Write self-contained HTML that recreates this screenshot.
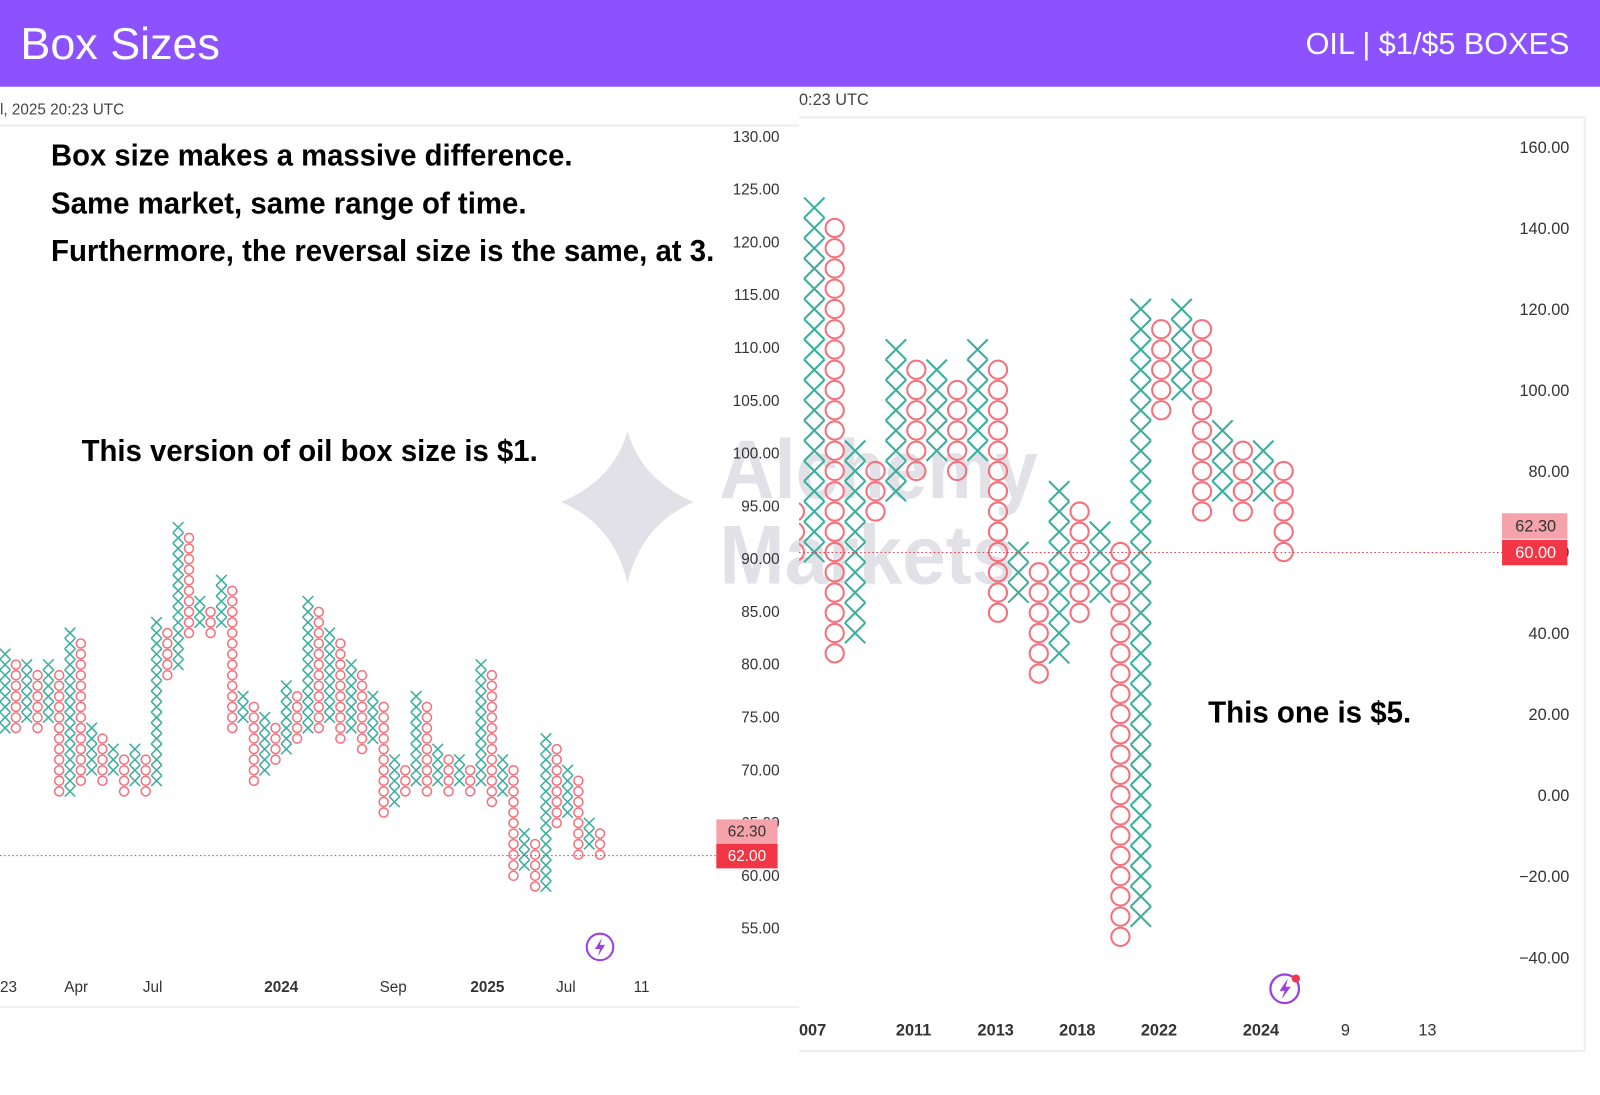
<!DOCTYPE html>
<html><head><meta charset="utf-8"><style>
html,body{margin:0;padding:0;background:#fff;}
body{width:1600px;height:1095px;overflow:hidden;position:relative;font-family:"Liberation Sans",sans-serif;}
svg{position:absolute;left:0;top:0;}
</style></head><body>
<svg id="s" width="1600" height="1095" viewBox="0 0 1568 1073.1" preserveAspectRatio="none" xmlns="http://www.w3.org/2000/svg">
<defs>
<clipPath id="cr"><rect x="783" y="100" width="800" height="1000"/></clipPath>
<clipPath id="cl"><rect x="0" y="100" width="783" height="1000"/></clipPath>
</defs>
<rect x="0" y="0" width="1568" height="1074" fill="#fff"/>
<rect x="0" y="0" width="1568" height="85" fill="#8c52ff"/>
<text x="20" y="58" font-size="44" fill="#fff" font-family="Liberation Sans, sans-serif">Box Sizes</text>
<text x="1538" y="53" font-size="30" fill="#fff" text-anchor="end" font-family="Liberation Sans, sans-serif">OIL | $1/$5 BOXES</text>
<line x1="0" y1="123" x2="783" y2="123" stroke="#eee" stroke-width="2"/>
<line x1="0" y1="987" x2="783" y2="987" stroke="#eee" stroke-width="2"/>
<line x1="783" y1="115" x2="1553" y2="115" stroke="#eee" stroke-width="2"/>
<line x1="783" y1="1030" x2="1553" y2="1030" stroke="#eee" stroke-width="2"/>
<line x1="1553" y1="115" x2="1553" y2="1030" stroke="#eee" stroke-width="2"/>
<text x="0" y="112" font-size="15" fill="#444">l, 2025 20:23 UTC</text>
<text x="783" y="103" font-size="16" fill="#444">0:23 UTC</text>
<g fill="#e2e1e8">
<path d="M615 422 Q628 470 680 492 Q628 514 615 572 Q602 514 550 492 Q602 470 615 422 Z"/>
<text x="705" y="488" font-size="82" font-weight="bold" textLength="312" lengthAdjust="spacingAndGlyphs">Alchemy</text>
<text x="705" y="572" font-size="82" font-weight="bold" textLength="290" lengthAdjust="spacingAndGlyphs">Markets</text>
</g>
<g id="marksL" clip-path="url(#cl)"></g>
<g id="marksR" clip-path="url(#cr)"></g>
<line x1="0" y1="838.5" x2="702" y2="838.5" stroke="#f23645" stroke-width="1" stroke-dasharray="1.5,2.5"/>
<line x1="783" y1="541.5" x2="1472" y2="541.5" stroke="#f23645" stroke-width="1" stroke-dasharray="1.5,2.5"/>
<g font-size="15" fill="#333" text-anchor="end" id="laxis"></g>
<g font-size="16" fill="#333" text-anchor="end" id="raxis"></g>
<rect x="702" y="803" width="60" height="24" fill="#f5a2aa"/>
<text x="732" y="820" font-size="15" fill="#333" text-anchor="middle">62.30</text>
<rect x="702" y="827" width="60" height="24" fill="#f23645"/>
<text x="732" y="844" font-size="15" fill="#fff" text-anchor="middle">62.00</text>
<rect x="1472" y="503" width="64" height="25" fill="#f5a2aa"/>
<text x="1505" y="521" font-size="16" fill="#333" text-anchor="middle">62.30</text>
<rect x="1472" y="529" width="64" height="25" fill="#f23645"/>
<text x="1505" y="547" font-size="16" fill="#fff" text-anchor="middle">60.00</text>
<g font-size="15" fill="#333">
<text x="0" y="972">23</text>
<text x="63" y="972">Apr</text>
<text x="140" y="972">Jul</text>
<text x="259" y="972" font-weight="bold">2024</text>
<text x="372" y="972">Sep</text>
<text x="461" y="972" font-weight="bold">2025</text>
<text x="545" y="972">Jul</text>
<text x="621" y="972">11</text>
</g>
<g font-size="16" fill="#333" font-weight="bold">
<text x="783" y="1015">007</text>
<text x="878" y="1015">2011</text>
<text x="958" y="1015">2013</text>
<text x="1038" y="1015">2018</text>
<text x="1118" y="1015">2022</text>
<text x="1218" y="1015">2024</text>
<text x="1314" y="1015" font-weight="normal">9</text>
<text x="1390" y="1015" font-weight="normal">13</text>
</g>
<circle cx="588" cy="928" r="13" fill="none" stroke="#9c3fe0" stroke-width="2"/>
<path d="M590 919 L583 930 L588 930 L586 937 L593 926 L588 926 Z" fill="#9c3fe0"/>
<circle cx="1259" cy="969" r="14" fill="none" stroke="#9c3fe0" stroke-width="2.2"/>
<path d="M1262 959 L1254 971 L1259 971 L1256 979 L1265 967 L1260 967 Z" fill="#9c3fe0"/>
<circle cx="1270" cy="959" r="4" fill="#f23645"/>
<g font-family="Liberation Sans Narrow, Liberation Sans, sans-serif" font-weight="bold" font-size="30" fill="#000">
<text x="50" y="162" textLength="511" lengthAdjust="spacingAndGlyphs">Box size makes a massive difference.</text>
<text x="50" y="209" textLength="466" lengthAdjust="spacingAndGlyphs">Same market, same range of time.</text>
<text x="50" y="256" textLength="650" lengthAdjust="spacingAndGlyphs">Furthermore, the reversal size is the same, at 3.</text>
<text x="80" y="452" textLength="447" lengthAdjust="spacingAndGlyphs">This version of oil box size is $1.</text>
<text x="1184" y="708" textLength="199" lengthAdjust="spacingAndGlyphs">This one is $5.</text>
</g>
</svg>
<script>
(function(){
var XC="#3aae9c",OC="#f6707b";
function draw(out,x,y,h,w,isX,sw){
  if(isX){out.push('<path d="M'+(x-w/2)+' '+(y-h/2)+' L'+(x+w/2)+' '+(y+h/2)+' M'+(x+w/2)+' '+(y-h/2)+' L'+(x-w/2)+' '+(y+h/2)+'" stroke="'+XC+'" stroke-width="'+sw+'" fill="none"/>');}
  else{out.push('<circle cx="'+x+'" cy="'+y+'" r="'+(Math.min(w,h)/2-sw/2)+'" stroke="'+OC+'" stroke-width="'+sw+'" fill="none"/>');}
}
var L=[["X",653,730],["O",665,728],["X",663,720],["O",675,728],["X",663,720],["O",675,793],["X",632,793],["O",643,782],["X",727,772],["O",738,782],["X",748,772],["O",758,792],["X",748,782],["O",758,792],["X",620,783],["O",632,675],["X",525,667],["O",537,633],["X",600,623],["O",610,633],["X",578,623],["O",590,728],["X",693,718],["O",705,782],["X",715,772],["O",727,760],["X",683,750],["O",697,738],["X",600,728],["O",612,728],["X",632,717],["O",643,738],["X",663,728],["O",675,750],["X",695,738],["O",707,813],["X",758,803],["O",770,792],["X",695,782],["O",707,792],["X",747,782],["O",758,792],["X",758,782],["O",770,792],["X",663,782],["O",675,802],["X",758,792],["O",770,875],["X",833,863],["O",843,885],["X",737,885],["O",748,823],["X",768,813],["O",780,855],["X",820,845],["O",833,855]];
var lh=10.347,out=[],K=1.0204;
function ly(p){return 134+(130-p)*lh;}
for(var i=0;i<L.length;i++){
  var c=L[i],x=5+i*10.6;
  var pt=Math.round(130-(c[1]/K-134)/lh),pb=Math.round(130-(c[2]/K-134)/lh);
  for(var p=pb;p<=pt;p++) draw(out,x,ly(p),lh,10.4,c[0]=="X",1.5);
}
document.getElementById("marksL").innerHTML=out.join("");
var R=[["O",70,60,779],["X",145,60],["O",140,35],["X",85,40],["O",80,70],["X",110,75],["O",105,80],["X",105,85],["O",100,80],["X",110,85],["O",105,45],["X",60,50],["O",55,30],["X",75,35],["O",70,45],["X",65,50],["O",60,-35],["X",120,-30],["O",115,95],["X",120,100],["O",115,70],["X",90,75],["O",85,70],["X",85,75],["O",80,60]];
var rh=19.85,ci=0;out=[];
function ry(p){return 541-(p-60)*rh/5;}
for(var j=0;j<R.length;j++){
  var c=R[j],x;
  if(c[3]){x=c[3];} else {x=798+ci*20;ci++;}
  for(var p=c[2];p<=c[1];p+=5) draw(out,x,ry(p),rh,20,c[0]=="X",2);
}
document.getElementById("marksR").innerHTML=out.join("");
var la=document.getElementById("laxis"),s="";
for(var v=130;v>=55;v-=5){s+='<text x="764" y="'+(ly(v)+5)+'">'+v.toFixed(2)+'</text>';}
la.innerHTML=s;
var ra=document.getElementById("raxis");s="";
for(var v=160;v>=-40;v-=20){s+='<text x="1538" y="'+(ry(v)+6)+'">'+(v<0?'\u2212'+(-v).toFixed(2):v.toFixed(2))+'</text>';}
ra.innerHTML=s;
})();
</script>
</body></html>
